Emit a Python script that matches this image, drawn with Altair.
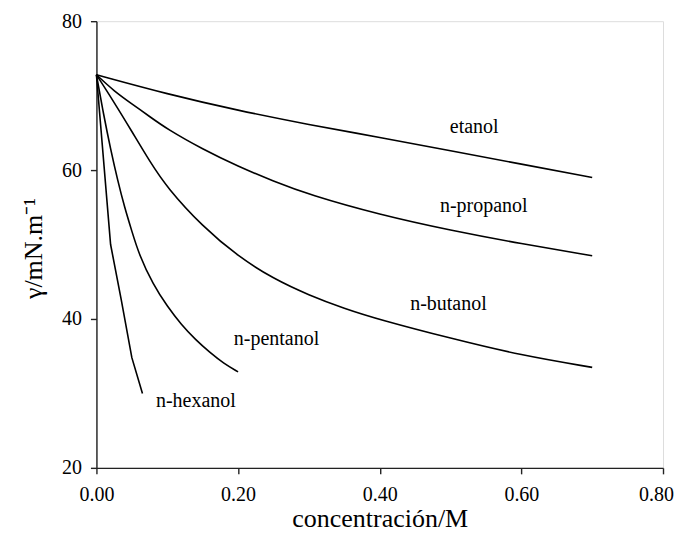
import altair as alt
import pandas as pd

# ---- data ----
etanol_x = [0.0, 0.1, 0.2, 0.3, 0.4, 0.5, 0.6, 0.7]
etanol_y = [72.8, 70.2, 68.0, 66.1, 64.4, 62.6, 60.8, 59.0]

propanol_x = [0.0, 0.025, 0.05, 0.075, 0.1, 0.15, 0.2, 0.25, 0.3, 0.4, 0.5, 0.6, 0.7]
propanol_y = [72.8, 70.6, 68.9, 67.2, 65.5, 62.8, 60.5, 58.5, 56.7, 54.0, 51.9, 50.1, 48.5]

butanol_x = [0.0, 0.025, 0.05, 0.075, 0.1, 0.15, 0.2, 0.25, 0.3, 0.35, 0.4, 0.5, 0.6, 0.7]
butanol_y = [72.8, 69.1, 65.2, 61.2, 57.6, 52.4, 48.4, 45.4, 43.2, 41.4, 39.9, 37.4, 35.1, 33.5]

pentanol_x = [0.0, 0.01, 0.02, 0.03, 0.04, 0.05, 0.06, 0.08, 0.1, 0.12, 0.14, 0.16, 0.18, 0.2]
pentanol_y = [72.8, 67.5, 62.8, 58.6, 54.9, 51.8, 48.7, 44.6, 41.7, 39.2, 37.2, 35.5, 34.0, 32.9]

hexanol_x = [0.0, 0.02, 0.035, 0.05, 0.065]
hexanol_y = [72.8, 50.0, 42.6, 34.8, 30.0]

label_names = ["etanol", "n-propanol", "n-butanol", "n-pentanol", "n-hexanol"]
label_x = [0.499, 0.485, 0.443, 0.194, 0.084]
label_y = [65.0, 54.4, 41.2, 36.5, 28.2]

x_ticks = [0.0, 0.2, 0.4, 0.6, 0.8]
y_ticks = [20, 40, 60, 80]
last_tick_label = ["0.80"]

FONT = "'Liberation Serif', 'Times New Roman', Times, serif"

smooth_rows = []
for name, xs, ys in [("etanol", etanol_x, etanol_y),
                     ("n-propanol", propanol_x, propanol_y),
                     ("n-butanol", butanol_x, butanol_y),
                     ("n-pentanol", pentanol_x, pentanol_y)]:
    for xv, yv in zip(xs, ys):
        smooth_rows.append({"serie": name, "c": xv, "g": yv})
smooth_df = pd.DataFrame(smooth_rows)
hex_df = pd.DataFrame({"serie": "n-hexanol", "c": hexanol_x, "g": hexanol_y})
lab_df = pd.DataFrame({"name": label_names, "c": label_x, "g": label_y})
last_df = pd.DataFrame({"t": last_tick_label, "c": [x_ticks[-1]], "g": [y_ticks[0]]})

xscale = alt.Scale(domain=[0, 0.8], nice=False, zero=False)
yscale = alt.Scale(domain=[20, 80], nice=False, zero=False)

xaxis = alt.Axis(
    values=x_ticks, format=".2f", grid=False,
    labelExpr="datum.value >= 0.79 ? '' : datum.label",
    title="concentración/M", titleFont=FONT, titleFontSize=26,
    titleFontWeight="normal", titleColor="black",
    titleY=59, titleBaseline="alphabetic",
    labelFont=FONT, labelFontSize=20, labelColor="black",
    labelPadding=11, tickSize=6, tickColor="#222", domainColor="#222",
    domainWidth=1.4, tickWidth=1.4, labelFlush=False,
)
yaxis = alt.Axis(
    values=y_ticks, grid=False,
    title="γ/mN.m⁻¹", titleFont=FONT, titleFontSize=26,
    titleFontWeight="normal", titleColor="black",
    titleX=-55, titleY=227, titleBaseline="alphabetic", titleAngle=270,
    labelFont=FONT, labelFontSize=20, labelColor="black",
    labelPadding=9, tickSize=6, tickColor="#222", domainColor="#222",
    domainWidth=1.4, tickWidth=1.4, labelFlush=False,
)

smooth = alt.Chart(smooth_df).mark_line(
    color="black", strokeWidth=1.6, interpolate="basis"
).encode(
    x=alt.X("c:Q", scale=xscale, axis=xaxis),
    y=alt.Y("g:Q", scale=yscale, axis=yaxis),
    detail="serie:N",
)

hexl = alt.Chart(hex_df).mark_line(
    color="black", strokeWidth=1.6, interpolate="linear"
).encode(
    x=alt.X("c:Q", scale=xscale),
    y=alt.Y("g:Q", scale=yscale),
)

labels = alt.Chart(lab_df).mark_text(
    font=FONT, fontSize=20, color="black", align="left", baseline="alphabetic"
).encode(
    x=alt.X("c:Q", scale=xscale),
    y=alt.Y("g:Q", scale=yscale),
    text="name:N",
)

# last x tick label, nudged left so it stays inside the page
last_lab = alt.Chart(last_df).mark_text(
    font=FONT, fontSize=20, color="black", align="right", baseline="top",
    dx=11, dy=17
).encode(
    x=alt.X("c:Q", scale=xscale),
    y=alt.Y("g:Q", scale=yscale),
    text="t:N",
)

chart = alt.layer(smooth, hexl, labels, last_lab).properties(
    width=567, height=447,
    autosize=alt.AutoSizeParams(type="none"),
    padding={"left": 88.5, "top": 13, "right": 11, "bottom": 66},
).configure_view(stroke=None).configure(background="white")

chart.save("out.html", embed_options={"renderer": "svg", "actions": False})
